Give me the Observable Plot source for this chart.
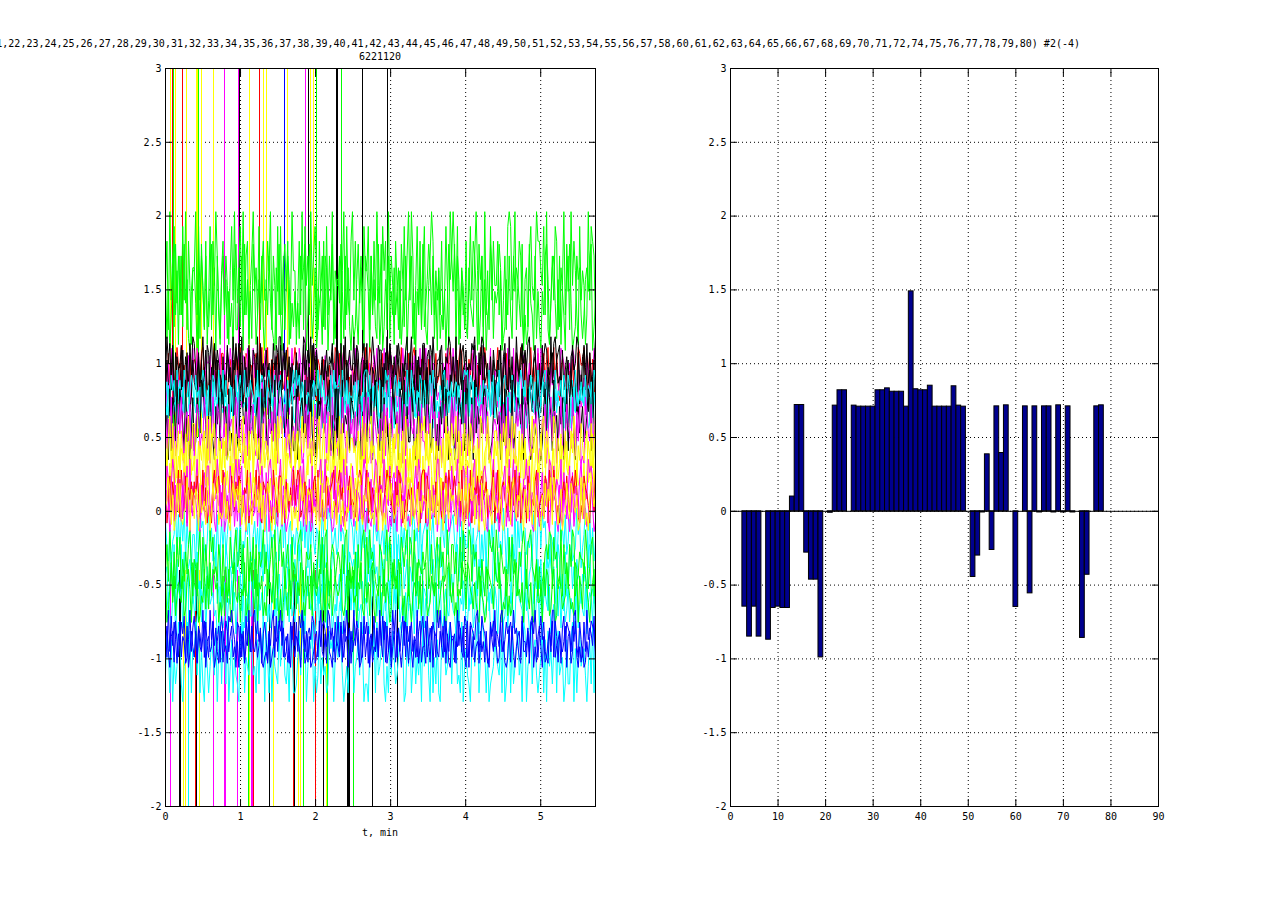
<!DOCTYPE html>
<html><head><meta charset="utf-8">
<script src="https://cdn.jsdelivr.net/npm/d3@7"></script>
<script src="https://cdn.jsdelivr.net/npm/@observablehq/plot@0.6"></script>
<style>
body{margin:0;background:#fff;}
#fig{position:relative;width:1280px;height:906px;overflow:hidden;font-family:"DejaVu Sans Mono",monospace;color:#000;background:#fff;}
#title{position:absolute;top:38px;right:200px;white-space:nowrap;font-size:10px;line-height:12px;}
#sub{position:absolute;top:51px;left:330px;width:100px;text-align:center;font-size:10px;line-height:12px;}
#xlab{position:absolute;top:827px;left:330px;width:100px;text-align:center;font-size:10px;line-height:12px;}
#left{position:absolute;left:0;top:0;}
#right{position:absolute;left:640px;top:0;}
</style>
</head><body>
<div id="fig">
<div id="left"></div><div id="right"></div>
<div id="title"></div><div id="sub"></div><div id="xlab"></div>
</div>
<script>
// ---------- text ----------
const titleText = "(1,2,3,4,5,6,7,8,9,10,11,12,13,14,15,16,17,18,19,20,21,22,23,24,25,26,27,28,29,30,31,32,33,34,35,36,37,38,39,40,41,42,43,44,45,46,47,48,49,50,51,52,53,54,55,56,57,58,60,61,62,63,64,65,66,67,68,69,70,71,72,74,75,76,77,78,79,80) #2(-4)";
const subText = "6221120";
const xLabelLeft = "t, min";

// ---------- left panel: traces ----------
const tEnd = 5.73;
const leftXTicks = [0, 1, 2, 3, 4, 5];
const yTicks = [-2, -1.5, -1, -0.5, 0, 0.5, 1, 1.5, 2, 2.5, 3];

const traceColors = ["#00ffff","#00ff00","#00ff00","#ff0000","#ff00ff","#000000","#000000","#00ffff","#00ffff","#000000","#ff00ff","#00ffff","#00ffff","#00ffff","#00ff00","#00ff00","#0000ff","#0000ff","#ffff00","#ffff00","#ff00ff","#ff0000","#ff00ff","#ffff00"];
const traceLevels = [-1.02, 1.58, 1.45, 0.93, 0.88, 0.98, 0.90, 0.80, 0.72, 0.62, 0.55, -0.18, -0.45, -0.65, -0.35, -0.55, -0.85, -0.90, 0.42, 0.30, 0.15, 0.10, 0.02, 0.05];
const traceSpread = [0.06, 0.1, 0.08, 0.04, 0.05, 0.045, 0.05, 0.035, 0.035, 0.06, 0.05, 0.045, 0.05, 0.04, 0.05, 0.045, 0.04, 0.035, 0.05, 0.05, 0.045, 0.04, 0.035, 0.04];
const traceDigits = [
"386170524972045938165938162074147538069286290471532086915437634172859095170643284783250961125839670476904138253412867059597302418681457396022067581934692041738523589601748147253609469308152710756348927582319046320684791598615023475437190268172468350980459267313591708462691834502722790615845630472918",
"471936825062839174055928364170381749620572640583911583926704694028157337591640828261470395503729184629468517307182639054460591832793720461855816273940285719364074150283693960482715810469725352713840969638025417148376950260925183744725036189835914762020168435977548291036387160492561947520835402938761",
"615037294838294610577406195283259370841683615240794728093615195736482063842107593079586142524186790396137024582870459316649518372031269475087508362194902648153735719628046814053729246973815071325049685908617342174328509682603497154597012638318576429067294308152053896147841627530959401286731367589024",
"528371049639460528177610489352245793610880315742694692018735617834590219057624835324891076976023851434891076257051642398281697534064372018594598360127380517926472649035181589346072902761548346130827956350798142274853160981962470355931460827347281596070259463181648379254928305764145172039866940582713",
"817294036526053781495493016287783062549113685972046241873950395740261890143568274786120593253974816071628950345803461729142793058663950148723071286945439607182581254963701758302946694381705232076591849581024637247693851078341590265160287493309274561886473120591985063274621359874047598203612508631497",
"395817206451726408398406259371169384752060275319484839162075276190845373502846199184736052362501984759084721361473658209628039157449172056838035964127705294831624861537905931706248816742950337140659826290381457154879203698235160744375068219260194378574892156305136874092895230714630674598216718240359",
"274059183669153840274358072619806392715415294607387384156290520783946136417209859478503612281634957060932851474751068329832491760515698302747032651498163842975059720368148405172639326198504778946031522517348960604379128591865204734729158306335087469186152079341092436578547893120672396408152964085371",
"406285719373194025862845169730650873194292713640581683590247542091687337962480158135072469496831572025076493817243180956681953702436507241899184362507512978403684710362953960251874720584961316389274504513602798908741532627463901856392578041385120697470148635295268937410193547086286071942534281653097",
"692703541814837692055370842916821950637436541280977096453821253890716448713620599305174682164209853767892513403415786092805263947152934107682761845903381749265062490537181586237094973416085240528173692698345170736192804551406739828923051647347529601860187439252589160734973642508114028375695864019273",
"350817629486419250371275398640593206471874608132952189547306632570184940762391589753482061180467392559312084763467915082802935461765137802492748069531917352048645087391622861047359739521680416493850275032764918821709364537864012596450928173291357648075840123964026839751935164702817982056346235871940",
"726490513849306718251587243960604931875237128564098356027194582149036721647395089478162035369540178270318562494807219653152963087462735841908940175326608175394227394081659546127083318459672076028354194927061358135824960784937102565276384091361095782498421365702165804793770359214854296173801097438256",
"731604592828491736055082967314946150823737258901466190437582157362904882073549614938016725265174839073842650195019873462384652019762750918349503186472462813579090517362482387460915674915830210953824678426907153397261458051608437297834295061251907384662435189079386720154170594638248612395703597082614",
"561482907329380567417083419526452678139013972650848650943217327150864969431278052085364971741985036258360721949162438750350491628767280534191847295630837025194619426835706508724193321695740897841306252659478031503186927474285031964863012759159734682080256914373714280965614973508229836075415460892317",
"247316805968195024374035927816956734018213826594705740816293392605471882517936046108472935269431508774530281694819760352156023879493871450265204896371715604923838924617055270835619164379805289215043764307265981265813940794356701286089423715371298654075410382691926754803509381762482643091574380576291",
"372950618481526379405406918273196834275072401853694593710826281706459360358294179461573082327894016557042169381893057624652738904141607258938395642107640792831521538647908729015436459137206818462395077360481952398275614052041976839617534028283501647961789432504023675981856129073417498023655396147802",
"802593714643712685096590143827294875603171638205943705491268942806571318563729405037418269826490315727195468306093281475458213709673406592183618920457158364029757298140363046592718891237546024671089536130549872985426310743018765297695032814127894536058426107933509487126801675234964231980752975304681",
"619283740537580149268406529173194736205852308796417615408392289413605740537918269361250748372869401564870135921509846273827315946049362071857045382619384702619591625837405724190368208364751969318052744509362187127654890386530174293018924756749563108223607859415847210639913450682765028931741729465380",
"483067195292651803742718436905634902581715973682405082714693843695710231702485697925613084265408937160135729489748320615428195603735697014825806143729529183604716730492858306527914492518076327483951066154973820908261453735172086947649351028183046729552738904168406125739296174358067385920414015269873",
"516928304727340695188401536729395781264062834709151648925073709536148245327081969816043257237059486156271389048143965270390821754664517309281789452063273950816468142739504053619287937184602515260937485692730481328745160980459621377410385926296810735461335948704589276013980643517212749605385357018249",
"940527183637629180546138405927259073618478241635094056892371137954026886130274955241689730398721504667203589142154906387849617302540317826597568324190816402735935908162747428395106196574038250312698472746183905968250417343179560286809432715127564839084360715923951287604712359046846897152302504863917",
"286159704363074829154593016728812573960417402853695968140237321697485074895031269053621478263784905161823057944905167382137492856085214306973746059812549032816718276509346315849702376810245992045763184659231870813279064527860145937043568129359182740669281430571470635982836529174048170532692053978614",
"603827415919528064737485139260320695784196143085274871265903235948107657230964188140752639369812470565078392141283567940794602158343157980269072643158214697835073985014264621357089908524617335170829646843719205129046583784571326905902674318273951804660862437913451870962961302574842785961031865307429",
"185036294752947180637631095428346820759190275438162715860934634917258048063952178173024659359268170460184572932457930186790316284551682493704321785069926740315840851769231739520684651284937039482670158370915246512638470928510734967603498152419425683795827103641436582079672093184530581476298741369502",
"459716028382134950762760834519604857913239251068477381620495159473826058620419739137285604240695831767534190283089762541861520437942709831655942317806703169584236482510979182470536552709361819603842756413857029287591640382067431954359102786179426583075283190643062847591964157023852874360192813059647"
];

const spikeUpT = [0.067,0.093,0.107,0.127,0.22,0.276,0.413,0.427,0.444,0.476,0.644,0.787,0.969,0.982,1.124,1.249,1.307,1.347,1.587,1.623,1.863,1.903,1.933,1.969,2.017,2.283,2.296,2.351,2.631,2.956];
const spikeUpC = ["#ffff00","#ff0000","#00ff00","#ffff00","#ff0000","#ffff00","#ffff00","#ffff00","#00ff00","#ffff00","#ffff00","#ff00ff","#ff00ff","#000000","#ffff00","#ff0000","#ffff00","#ffff00","#0000ff","#ffff00","#ff00ff","#000000","#ffff00","#ffff00","#00ff00","#000000","#000000","#00ff00","#000000","#000000"];
const spikeDownT = [0.067,0.191,0.204,0.244,0.271,0.307,0.404,0.413,0.449,0.644,0.78,0.793,0.964,1.107,1.124,1.14,1.153,1.169,1.391,1.444,1.711,1.72,1.773,1.8,1.836,2.004,2.111,2.147,2.156,2.431,2.44,2.449,2.503,2.76,3.097];
const spikeDownC = ["#ff00ff","#000000","#000000","#ffff00","#ffff00","#00ffff","#ff0000","#000000","#ffff00","#ff00ff","#ff00ff","#ff00ff","#ff00ff","#00ff00","#ffff00","#ff00ff","#ff00ff","#ff0000","#000000","#ffff00","#ff0000","#000000","#ffff00","#ffff00","#00ff00","#ff0000","#000000","#ffff00","#00ff00","#000000","#000000","#000000","#00ff00","#000000","#000000"];

// ---------- right panel: bars ----------
const barChannels = [3,4,5,6,8,9,10,11,12,13,14,15,16,17,18,19,21,22,23,24,26,27,28,29,30,31,32,33,34,35,36,37,38,39,40,41,42,43,44,45,46,47,48,49,51,52,53,54,55,56,57,58,60,62,63,64,65,66,67,68,69,70,71,72,74,75,77,78];
const barValues = [-0.646,-0.849,-0.646,-0.849,-0.87,-0.655,-0.646,-0.655,-0.655,0.10,0.72,0.72,-0.28,-0.463,-0.463,-0.99,-0.01,0.716,0.82,0.82,0.716,0.709,0.709,0.709,0.709,0.82,0.82,0.833,0.81,0.81,0.81,0.709,1.49,0.827,0.82,0.82,0.851,0.709,0.709,0.709,0.709,0.847,0.716,0.709,-0.445,-0.30,-0.008,0.386,-0.262,0.711,0.395,0.718,-0.648,0.711,-0.556,0.711,-0.008,0.711,0.711,-0.008,0.718,-0.008,0.711,-0.008,-0.858,-0.43,0.711,0.718];
const rightXTicks = [0,10,20,30,40,50,60,70,80,90];

// ---------- build tables ----------
const traces = [];
traceDigits.forEach((s, k) => {
  const n = s.length;
  for (let i = 0; i < n; i++) {
    traces.push({ch: k, t: i * tEnd / (n - 1), v: traceLevels[k] + (+s[i] - 4.5) * traceSpread[k], c: traceColors[k]});
  }
});
const spikesUp = spikeUpT.map((t, i) => ({t, c: spikeUpC[i]}));
const spikesDown = spikeDownT.map((t, i) => ({t, c: spikeDownC[i]}));
const bars = barChannels.map((ch, i) => ({ch, v: barValues[i]}));
const barHalf = 0.5;

const fmt = d => String(d);
const gridStyle = {stroke: "black", strokeOpacity: 1, strokeDasharray: "1,3", strokeWidth: 1};
const common = {
  width: 640, height: 906, marginTop: 68, marginBottom: 100,
  style: {fontFamily: "DejaVu Sans Mono, monospace", fontSize: "10px", color: "black", background: "white", overflow: "visible"},
  color: {type: "identity"}
};
function axes(xt, yt) {
  return [
    Plot.axisX({anchor: "bottom", ticks: xt, tickSize: -7, tickPadding: 13, tickFormat: fmt, label: null}),
    Plot.axisX({anchor: "top", ticks: xt, tickSize: -7, tickFormat: () => "", label: null}),
    Plot.axisY({anchor: "left", ticks: yt, tickSize: -7, tickPadding: 11, tickFormat: fmt, label: null}),
    Plot.axisY({anchor: "right", ticks: yt, tickSize: -7, tickFormat: () => "", label: null}),
    Plot.frame({stroke: "black", strokeWidth: 1})
  ];
}

const leftPlot = Plot.plot({
  ...common,
  marginLeft: 165, marginRight: 45,
  x: {domain: [0, tEnd]},
  y: {domain: [-2, 3]},
  marks: [
    Plot.gridX({ticks: leftXTicks.slice(1), ...gridStyle}),
    Plot.gridY({ticks: yTicks.slice(1, -1), ...gridStyle}),
    Plot.ruleX(spikesUp, {x: "t", y1: 0.5, y2: 3, stroke: "c", strokeWidth: 1, shapeRendering: "crispEdges"}),
    Plot.ruleX(spikesDown, {x: "t", y1: -0.4, y2: -2, stroke: "c", strokeWidth: 1, shapeRendering: "crispEdges"}),
    Plot.line(traces, {x: "t", y: "v", z: "ch", stroke: "c", strokeWidth: 1, curve: "linear"}),
    ...axes(leftXTicks, yTicks)
  ]
});

const rightPlot = Plot.plot({
  ...common,
  marginLeft: 90, marginRight: 122,
  x: {domain: [0, 90]},
  y: {domain: [-2, 3]},
  marks: [
    Plot.gridX({ticks: rightXTicks.slice(1, -1), ...gridStyle}),
    Plot.gridY({ticks: yTicks.slice(1, -1), ...gridStyle}),
    Plot.rect(bars, {x1: d => d.ch - barHalf, x2: d => d.ch + barHalf, y1: 0, y2: "v", fill: "#00008f", stroke: "black", strokeWidth: 1}),
    Plot.ruleY([0], {stroke: "black", strokeWidth: 1}),
    ...axes(rightXTicks, yTicks)
  ]
});

document.getElementById("left").appendChild(leftPlot);
document.getElementById("right").appendChild(rightPlot);
document.getElementById("title").textContent = titleText;
document.getElementById("sub").textContent = subText;
document.getElementById("xlab").textContent = xLabelLeft;
</script>
</body></html>
